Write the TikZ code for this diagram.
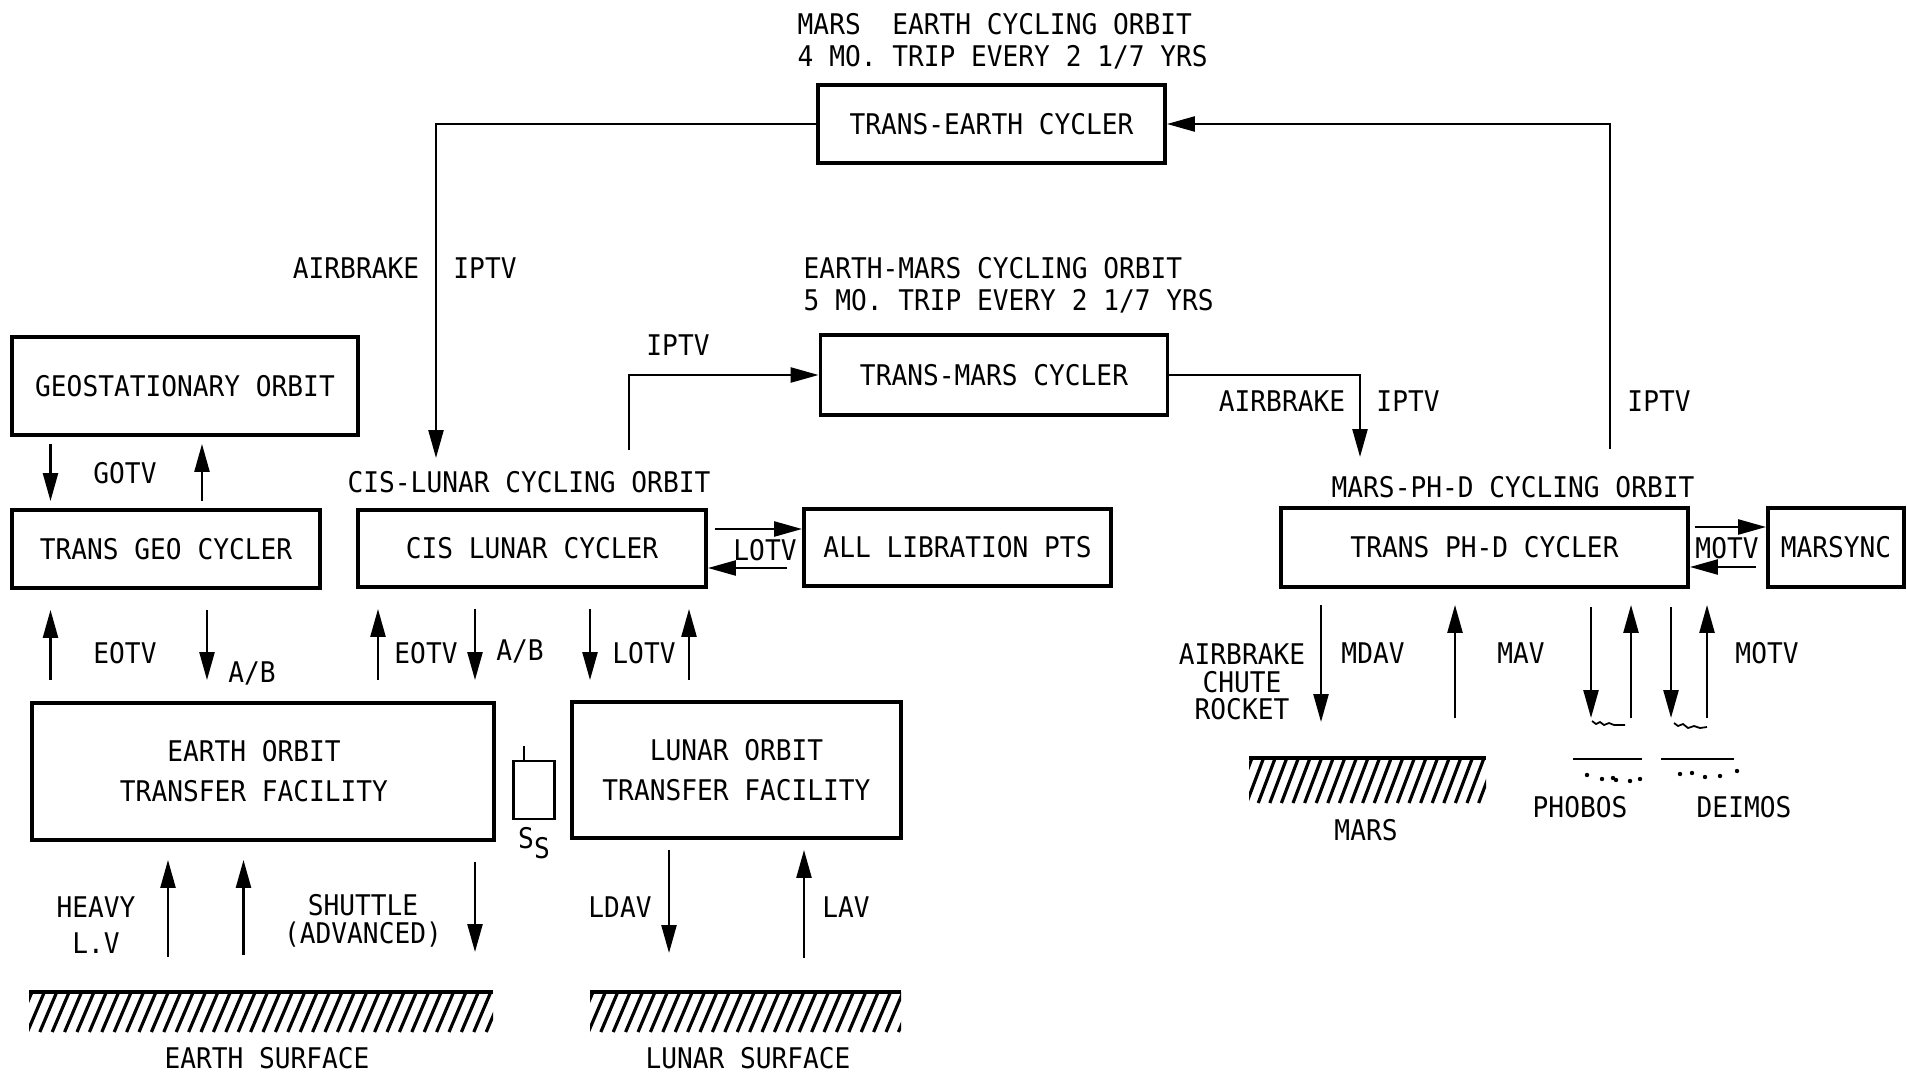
\documentclass[tikz,border=0pt]{standalone}
\usepackage{fontspec}
\setmainfont{DejaVu Sans Mono}[FakeStretch=0.92]
\usepackage{tikz}
\usetikzlibrary{arrows.meta}

\begin{document}
\begin{tikzpicture}[x=0.1mm,y=-0.1mm,
  font=\fontsize{8.1}{9.1}\selectfont,
  box/.style={draw,line width=1.1pt,inner sep=0pt,align=center},
  lbl/.style={inner sep=0pt,align=center},
  conn/.style={line width=0.7pt},
  arr/.style={line width=0.7pt,-{Triangle[length=2.8mm,width=1.5mm]}}]
\useasboundingbox (0,0) rectangle (1907,1073);
% cyclers and orbits
\node[box,minimum width=34.7mm,minimum height=7.8mm] (teC) at (991.5,124) {TRANS-EARTH CYCLER};
\node[box,minimum width=34.7mm,minimum height=8mm] (tmC) at (994,375) {TRANS-MARS CYCLER};
\node[box,minimum width=34.6mm,minimum height=9.8mm] (geo) at (185,386) {GEOSTATIONARY ORBIT};
\node[box,minimum width=30.8mm,minimum height=7.8mm] (tgeo) at (166,549) {TRANS GEO CYCLER};
\node[box,minimum width=34.8mm,minimum height=7.7mm] (cis) at (532,548.5) {CIS LUNAR CYCLER};
\node[box,minimum width=30.7mm,minimum height=7.7mm] (lib) at (957.5,547.5) {ALL LIBRATION PTS};
\node[box,minimum width=40.7mm,minimum height=7.9mm] (phd) at (1484.5,547.5) {TRANS PH-D CYCLER};
\node[box,minimum width=13.6mm,minimum height=7.9mm] (msync) at (1836,547.5) {MARSYNC};
\node[box,minimum width=46.2mm,minimum height=13.7mm] (eotf) at (263,771.5) {EARTH ORBIT\hspace*{1.8mm}\\[0.8mm]TRANSFER FACILITY\hspace*{1.8mm}};
\node[box,minimum width=32.9mm,minimum height=13.6mm] (lotf) at (736.5,770) {LUNAR ORBIT\\[0.8mm]TRANSFER FACILITY};
\node[draw,line width=0.6pt,minimum width=4.1mm,minimum height=5.8mm,inner sep=0pt] (ss) at (534,790) {};
\draw[line width=0.6pt] ([xshift=-1mm]ss.north) -- ++(0,-14);
% titles and labels
\node[lbl,anchor=north west,align=left] (meTitle) at (797,13) {MARS\ \ EARTH CYCLING ORBIT\\4 MO. TRIP EVERY 2 1/7 YRS};
\node[lbl,anchor=north west,align=left] (emTitle) at (803,257) {EARTH-MARS CYCLING ORBIT\\5 MO. TRIP EVERY 2 1/7 YRS};
\node[lbl] (airL) at (356,268) {AIRBRAKE};
\node[lbl] (ipL) at (485,268) {IPTV};
\node[lbl] (ipC) at (678,345) {IPTV};
\node[lbl] (airM) at (1282,401) {AIRBRAKE};
\node[lbl] (ipM) at (1408,401) {IPTV};
\node[lbl] (ipR) at (1659,401) {IPTV};
\node[lbl] (cisOrb) at (529,482) {CIS-LUNAR CYCLING ORBIT};
\node[lbl] (phdOrb) at (1513,487) {MARS-PH-D CYCLING ORBIT};
\node[lbl] (gotv) at (125,473) {GOTV};
\node[lbl] (eotvA) at (125,653) {EOTV};
\node[lbl] (abA) at (252,673) {A/B};
\node[lbl] (eotvB) at (426,653) {EOTV};
\node[lbl] (abB) at (520,651) {A/B};
\node[lbl] (lotvA) at (644,653) {LOTV};
\node[lbl] (lotvB) at (765,550) {LOTV};
\node[lbl] (motvA) at (1727,548) {MOTV};
\node[lbl,font=\fontsize{8.1}{7.8}\selectfont] (acr) at (1242,682) {AIRBRAKE\\CHUTE\\ROCKET};
\node[lbl] (mdav) at (1373,653) {MDAV};
\node[lbl] (mav) at (1521,653) {MAV};
\node[lbl] (motvB) at (1767,653) {MOTV};
\node[lbl,font=\fontsize{8.1}{10.2}\selectfont] (heavy) at (96,925) {HEAVY\\L.V};
\node[lbl,font=\fontsize{8.1}{8}\selectfont] (shuttle) at (363,921) {SHUTTLE\\(ADVANCED)};
\node[lbl] (ldav) at (620,907) {LDAV};
\node[lbl] (lav) at (846,907) {LAV};
\node[lbl] (ssL) at (534,843) {S\raisebox{-0.6ex}{S}};
\node[lbl] (earthL) at (267,1058) {EARTH SURFACE};
\node[lbl] (lunarL) at (748,1058) {LUNAR SURFACE};
\node[lbl] (marsL) at (1366,830) {MARS};
\node[lbl] (phobosL) at (1580,807) {PHOBOS};
\node[lbl] (deimosL) at (1744,807) {DEIMOS};
% surfaces
\coordinate (earthS) at (261,992);
\coordinate (lunarS) at (745,992);
\coordinate (marsS) at (1367,758);
\coordinate (moonS) at (1650,758);
\begin{scope}
\clip (29,992) rectangle (493,1032);
\foreach \x in {0,...,38} {\draw[line width=0.9pt] (15+12.4*\x,1032) -- ++(17,-40);}
\end{scope}
\begin{scope}
\clip (590,992) rectangle (901,1032);
\foreach \x in {0,...,26} {\draw[line width=0.9pt] (576+12.4*\x,1032) -- ++(17,-40);}
\end{scope}
\begin{scope}
\clip (1249,758) rectangle (1486,803);
\foreach \x in {0,...,21} {\draw[line width=0.9pt] (1235+11.6*\x,803) -- ++(17,-45);}
\end{scope}
\draw[line width=0.9pt] (29,992) -- (493,992);
\draw[line width=0.9pt] (590,992) -- (901,992);
\draw[line width=0.9pt] (1249,758) -- (1486,758);
\draw[line width=0.8pt] (1573,759) -- (1642,759);
\draw[line width=0.8pt] (1661,759) -- (1734,759);
\foreach \x/\y in {1587/775,1602/779,1613/778,1616/780,1630/781,1640/779,1680/774,1692/773,1705/777,1720/776,1737/771}
  {\fill (\x,\y) circle (0.22mm);}
\draw[line width=0.5pt] (1592,721) -- (1596,724) -- (1600,722) -- (1604,725) -- (1609,723) -- (1614,725) -- (1625,725);
\draw[line width=0.5pt] (1674,723) -- (1678,726) -- (1683,724) -- (1688,728) -- (1694,726) -- (1700,728) -- (1707,727);
% interplanetary loops
\coordinate (cisIn) at (436,458);
\coordinate (cisOut) at (629,450);
\coordinate (phdIn) at (1360,457);
\coordinate (phdOut) at (1610,449);
\draw[arr] (teC.west) -| (cisIn);
\draw[arr] (phdOut) |- (teC.east);
\draw[arr] (cisOut) |- (tmC.west);
\draw[arr] (tmC.east) -| (phdIn);
% geo
\draw[arr,shorten <=0.7mm,shorten >=0.7mm] (50.5,0 |- geo.south) -- (50.5,0 |- tgeo.north);
\draw[arr,shorten <=0.7mm,shorten >=0.7mm] (202,0 |- tgeo.north) -- (202,0 |- geo.south);
% cyclers to facilities
\draw[arr,shorten <=2.1mm,shorten >=2mm] (50.5,0 |- eotf.north) -- (50.5,0 |- tgeo.south);
\draw[arr,shorten <=2mm,shorten >=2.1mm] (207,0 |- tgeo.south) -- (207,0 |- eotf.north);
\draw[arr,shorten <=2.1mm,shorten >=2mm] (378,0 |- eotf.north) -- (378,0 |- cis.south);
\draw[arr,shorten <=2mm,shorten >=2.1mm] (475,0 |- cis.south) -- (475,0 |- eotf.north);
\draw[arr,shorten <=2mm,shorten >=2mm] (590,0 |- cis.south) -- (590,0 |- lotf.north);
\draw[arr,shorten <=2mm,shorten >=2mm] (689,0 |- lotf.north) -- (689,0 |- cis.south);
\draw[arr] (cis.east |- 0,529) ++(7,0) -- (lib.west |- 0,529);
\draw[arr] (lib.west |- 0,568) ++(-15,0) -- (cis.east |- 0,568);
\draw[arr] (phd.east |- 0,527) ++(5,0) -- (msync.west |- 0,527);
\draw[arr] (msync.west |- 0,567) ++(-10,0) -- (phd.east |- 0,567);
% surfaces
\draw[arr,shorten <=3.5mm,shorten >=1.8mm] (168,0 |- earthS) -- (168,0 |- eotf.south);
\draw[arr,shorten <=3.7mm,shorten >=1.8mm] (243.5,0 |- earthS) -- (243.5,0 |- eotf.south);
\draw[arr,shorten <=2mm,shorten >=4mm] (475,0 |- eotf.south) -- (475,0 |- earthS);
\draw[arr,shorten <=1mm,shorten >=3.9mm] (669,0 |- lotf.south) -- (669,0 |- lunarS);
\draw[arr,shorten <=3.4mm,shorten >=1mm] (804,0 |- lunarS) -- (804,0 |- lotf.south);
\draw[arr,shorten <=1.6mm,shorten >=3.6mm] (1321,0 |- phd.south) -- (1321,0 |- marsS);
\draw[arr,shorten <=4mm,shorten >=1.6mm] (1455,0 |- marsS) -- (1455,0 |- phd.south);
\draw[arr,shorten <=1.8mm,shorten >=4mm] (1591,0 |- phd.south) -- (1591,0 |- moonS);
\draw[arr,shorten <=4mm,shorten >=1.6mm] (1631,0 |- moonS) -- (1631,0 |- phd.south);
\draw[arr,shorten <=1.8mm,shorten >=4mm] (1671,0 |- phd.south) -- (1671,0 |- moonS);
\draw[arr,shorten <=4mm,shorten >=1.6mm] (1707,0 |- moonS) -- (1707,0 |- phd.south);
\end{tikzpicture}
\end{document}
